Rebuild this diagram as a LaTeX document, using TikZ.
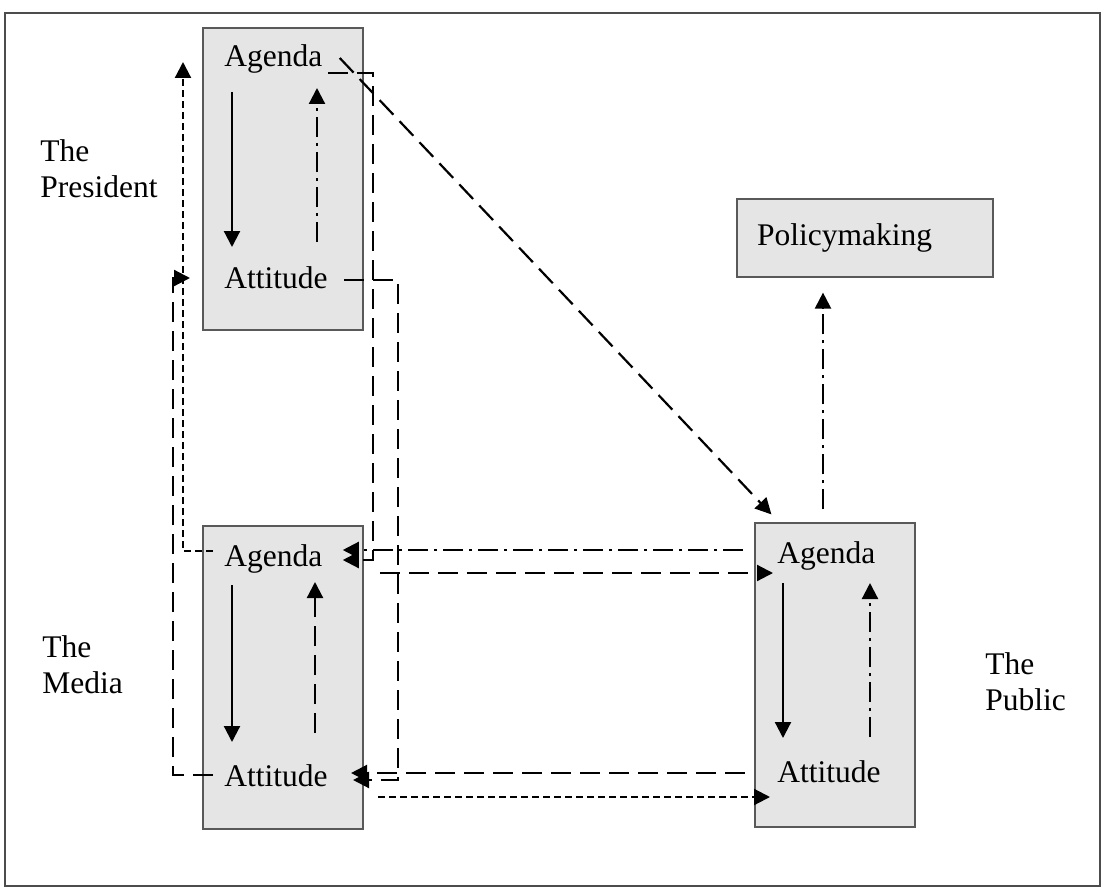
\documentclass[tikz,border=0pt]{standalone}
\usepackage{fontspec}
\setmainfont{Liberation Serif}
\usetikzlibrary{calc,positioning,arrows.meta}

\begin{document}
\begin{tikzpicture}[x=0.5pt,y=-0.5pt,
  every node/.style={font=\fontsize{15.75pt}{18pt}\selectfont,inner sep=0pt},
  box/.style={draw=black!65,fill=black!10,line width=0.6pt},
  tip/.style={-{Triangle[length=8pt,width=8pt]}},
  solidarr/.style={tip,line width=1.1pt},
  longdash/.style={tip,line width=1.1pt,dash pattern=on 10pt off 4.5pt},
  shortdash/.style={tip,line width=1.1pt,dash pattern=on 3.5pt off 2pt},
  dashdot/.style={tip,line width=1.1pt,dash pattern=on 10pt off 3pt on 1.5pt off 3pt}]
\useasboundingbox (0,0) rectangle (1103,888);
\draw[black!70,line width=1pt] (5,13) rectangle (1100,886);

% the three boxes and policymaking
\node[box,minimum width=80pt,minimum height=151pt] (pres) at (283,179) {};
\node[box,minimum width=80pt,minimum height=151.5pt] (media) at (283,677.5) {};
\node[box,minimum width=80pt,minimum height=152pt] (pub) at (835,675) {};
\node[box,minimum height=39pt,text width=108pt,inner xsep=10pt,align=left] (policy) at (865,238) {Policymaking};

\node[anchor=base west] (pAg) at (224,67) {Agenda};
\node[anchor=base west] (pAt) at (224,288) {Attitude};
\node[anchor=base west] (mAg) at (224,566) {Agenda};
\node[anchor=base west] (mAt) at (224,786) {Attitude};
\node[anchor=base west] (uAg) at (777,563) {Agenda};
\node[anchor=base west] (uAt) at (777,782) {Attitude};

\node[anchor=base west,align=left] (prlab) at (40,198) {The\\President};
\node[anchor=base west,align=left] (melab) at (42,693) {The\\Media};
\node[anchor=base west,align=left] (pulab) at (985,710) {The\\Public};

% inside the boxes
\draw[solidarr] ($(pAg.base west)+(8,25)$) -- ($(pAt.base west)+(8,-41)$);
\draw[dashdot] ($(pAt.base west)+(93,-46)$) -- ($(pAg.base west)+(93,21)$);
\draw[solidarr] ($(mAg.base west)+(8,19)$) -- ($(mAt.base west)+(8,-44)$);
\draw[longdash] ($(mAt.base west)+(91,-53)$) -- ($(mAg.base west)+(91,16)$);
\draw[solidarr] ($(uAg.base west)+(6,20)$) -- ($(uAt.base west)+(6,-44)$);
\draw[dashdot] ($(uAt.base west)+(93,-45)$) -- ($(uAg.base west)+(93,20)$);

% president to the others
\draw[longdash] ($(pAg.base east)+(17,-9)$) -- ($(pub.north west)+(17,-8)$);
\draw[longdash] ($(pAg.base east)+(5,6)$) -| ($(mAg.base east)+(50,-6)$) -- ($(mAg.base east)+(20,-6)$);
\draw[longdash] ($(pAt.base east)+(16,-8)$) -| ($(mAt.base east)+(70,-6)$) -- ($(mAt.base east)+(25,-6)$);

% media and public
\draw[dashdot] ($(uAg.base west)+(-34,-13)$) -- ($(mAg.base east)+(20,-16)$);
\draw[longdash] ($(mAg.base east)+(57,7)$) -- ($(uAg.base west)+(-4,10)$);
\draw[longdash] ($(uAt.base west)+(-32,-9)$) -- ($(mAt.base east)+(23,-13)$);
\draw[shortdash] ($(mAt.base east)+(50,11)$) -- ($(uAt.base west)+(-7,15)$);

% media back to president
\draw[shortdash] ($(mAg.base west)+(-11,-15)$) -| ($(pAg.base west)+(-41,-5)$);
\draw[longdash] ($(mAt.base west)+(-11,-11)$) -| ($(pAt.base west)+(-51,-10)$) -- ($(pAt.base west)+(-34,-10)$);

\draw[dashdot] ($(pub.north)+(-12,-13)$) -- ($(policy.south)+(-42,15)$);

\end{tikzpicture}
\end{document}
